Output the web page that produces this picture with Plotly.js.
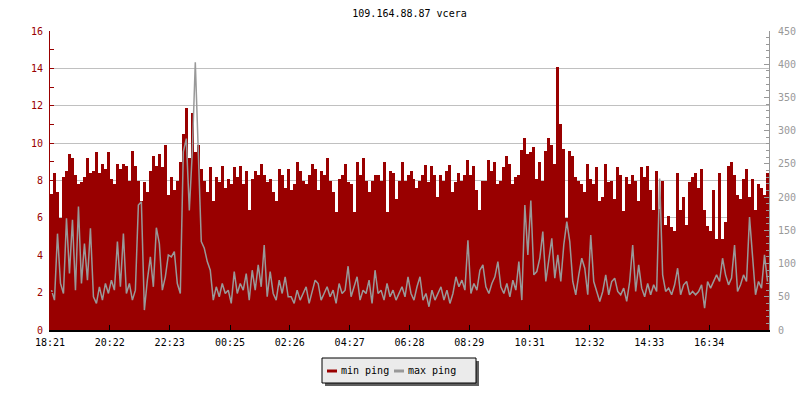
<!DOCTYPE html>
<html><head><meta charset="utf-8">
<script src="https://cdn.plot.ly/plotly-3.0.1.min.js"></script>
<style>html,body{margin:0;padding:0;background:#fff;}#chart{width:800px;height:400px;}</style>
</head><body><div id="chart"></div>
<script>
// ---- data ----
const chartTitle = '109.164.88.87 vcera';
const seriesNames = ['min ping', 'max ping'];
const timeLabels = ['18:21','20:22','22:23','00:25','02:26','04:27','06:28','08:29','10:31','12:32','14:33','16:34'];
const spanMinutes = 1454; // time covered by the x axis, starting at 18:21

// min ping (left axis, ms)
const minPing = [
 7.3,8.4,7.4,6.0,8.2,8.5,9.4,9.2,8.3,7.8,7.9,8.2,9.2,8.4,8.5,9.5,8.4,8.9,8.6,9.5,
 8.1,7.8,8.9,8.6,8.9,8.8,8.0,9.6,8.8,8.0,6.9,7.9,7.4,8.5,9.3,8.8,9.4,8.7,9.9,7.2,
 8.2,7.5,8.0,9.0,10.5,11.9,9.2,11.6,9.5,9.9,8.6,8.0,7.4,8.7,6.9,8.2,7.9,8.8,7.6,8.1,
 7.8,8.7,8.2,8.8,7.8,8.5,6.4,8.1,8.5,8.3,8.9,8.3,7.9,8.1,7.4,6.9,8.6,8.3,7.6,8.6,
 7.5,7.8,9.0,8.5,8.0,7.8,8.3,8.9,8.6,7.5,8.5,8.3,9.2,8.0,7.4,6.3,8.1,8.3,8.9,7.9,
 7.8,6.3,9.0,8.3,9.2,8.0,7.4,8.0,8.3,8.3,8.0,9.0,6.3,8.5,8.4,7.0,8.0,9.0,8.0,8.3,
 8.5,8.1,7.6,8.0,8.3,8.85,7.9,8.8,8.3,7.1,8.3,8.0,8.5,8.85,7.4,7.9,8.4,8.0,8.3,9.1,
 8.3,8.8,7.5,6.4,8.0,8.0,9.1,8.5,9.0,7.8,8.0,8.7,9.3,8.9,7.8,8.2,8.3,9.65,10.3,9.4,
 9.5,9.8,8.1,9.0,8.0,9.6,10.3,9.9,8.9,14.06,11.0,9.7,6.0,9.6,9.3,8.2,8.0,7.8,7.4,8.9,
 8.1,7.8,8.7,6.9,7.1,8.9,7.9,8.0,7.0,8.7,8.3,6.35,8.2,7.8,8.3,8.0,6.9,8.7,8.2,8.8,
 7.5,6.4,8.5,6.5,8.0,5.6,6.1,5.5,5.3,8.4,6.4,7.1,5.6,7.9,8.2,8.4,7.6,8.6,6.4,5.55,
 5.3,7.5,4.85,8.4,4.85,5.8,8.8,9.0,8.3,7.2,7.0,8.1,8.6,7.1,8.1,6.4,7.8,7.6,7.2,8.4
];

// max ping (right axis, ms)
const maxPing = [
 60,45,145,70,55,168,85,166,60,186,70,130,75,153,50,40,65,45,70,55,
 75,60,133,65,145,55,70,45,60,188,193,30,75,110,65,154,130,60,80,113,
 110,118,70,55,268,288,180,268,403,253,133,123,103,90,45,65,50,70,55,60,
 40,88,55,70,60,85,45,90,60,98,65,128,50,88,55,45,75,55,80,50,
 50,40,60,45,55,65,40,60,75,70,45,55,65,50,60,40,70,55,60,96,
 50,65,80,45,60,55,75,40,90,55,60,45,70,50,60,45,55,65,50,80,
 55,45,65,80,45,55,35,60,45,55,65,45,60,40,55,80,65,75,60,135,
 55,70,60,90,98,65,55,70,80,103,65,55,70,50,75,60,103,45,188,113,
 195,83,88,108,148,73,103,138,78,113,73,128,163,133,73,53,83,108,93,53,
 143,73,58,43,58,83,53,73,78,58,53,63,43,73,128,58,98,63,50,70,
 53,68,58,228,83,58,63,53,68,93,53,68,73,53,58,53,58,68,33,73,
 63,73,83,73,108,83,68,78,128,58,68,83,73,170,108,53,73,63,113,73
];

// ---- build ----
const RED = '#990000', GREY = '#999999';
const n = minPing.length;
const step = spanMinutes / n;
const xs = minPing.map((_, i) => (i + 0.5) * step);
const toMin = s => { const [h, m] = s.split(':').map(Number); return h * 60 + m; };
const t0 = toMin(timeLabels[0]);
const tickVals = timeLabels.map(s => ((toMin(s) - t0) + 1440) % 1440);

const traces = [
  { type: 'bar', name: seriesNames[0], x: xs, y: minPing, width: step,
    marker: { color: RED, line: { width: 0 } }, hoverinfo: 'skip' },
  { type: 'scatter', mode: 'lines', name: seriesNames[1], x: xs, y: maxPing, yaxis: 'y2',
    line: { color: GREY, width: 1.5, shape: 'linear' }, hoverinfo: 'skip' }
];

// custom legend box (pixel positions converted to paper coordinates)
const M = { l: 50, r: 31, t: 31, b: 70 };
const PW = 800 - M.l - M.r, PH = 400 - M.t - M.b;
const px = p => (p - M.l) / PW;
const py = p => (400 - M.b - p) / PH;
const legendShapes = [
  { type: 'rect', xref: 'paper', yref: 'paper', x0: px(325), x1: px(479), y0: py(386), y1: py(361),
    fillcolor: '#5f5f5f', line: { width: 0 }, layer: 'above' },
  { type: 'rect', xref: 'paper', yref: 'paper', x0: px(322), x1: px(476), y0: py(383), y1: py(358),
    fillcolor: '#ebebeb', line: { color: '#000', width: 1 }, layer: 'above' },
  { type: 'line', xref: 'paper', yref: 'paper', x0: px(327), x1: px(337), y0: py(371), y1: py(371),
    line: { color: RED, width: 3 }, layer: 'above' },
  { type: 'line', xref: 'paper', yref: 'paper', x0: px(394), x1: px(404), y0: py(371), y1: py(371),
    line: { color: GREY, width: 3 }, layer: 'above' }
];
const legendFont = { family: 'DejaVu Sans Mono, monospace', size: 10, color: '#000' };
const legendText = [
  { xref: 'paper', yref: 'paper', x: px(340), y: py(370), xanchor: 'left', yanchor: 'middle',
    text: seriesNames[0], showarrow: false, font: legendFont, borderpad: 0 },
  { xref: 'paper', yref: 'paper', x: px(407), y: py(370), xanchor: 'left', yanchor: 'middle',
    text: seriesNames[1], showarrow: false, font: legendFont, borderpad: 0 }
];

const layout = {
  width: 800, height: 400,
  margin: { l: M.l, r: M.r, t: M.t, b: M.b, pad: 0 },
  paper_bgcolor: '#ffffff', plot_bgcolor: '#ffffff',
  font: { family: 'DejaVu Sans Mono, monospace', size: 10, color: '#000000' },
  title: { text: chartTitle, x: 0.5, xref: 'paper', xanchor: 'center', y: 0.967, yref: 'container', yanchor: 'middle',
           font: { family: 'DejaVu Sans Mono, monospace', size: 10, color: '#000000' } },
  bargap: 0,
  showlegend: false,
  shapes: legendShapes,
  annotations: legendText,
  xaxis: { range: [0, spanMinutes], tickmode: 'array', tickvals: tickVals, ticktext: timeLabels,
           ticks: 'inside', ticklen: 5, tickcolor: '#000', tickwidth: 1,
           showline: true, linecolor: '#000', linewidth: 2, showgrid: false, zeroline: false,
           ticklabelstandoff: 2, fixedrange: true },
  yaxis: { range: [0, 16], tick0: 0, dtick: 2, ticks: 'inside', ticklen: 4, tickcolor: RED,
           showline: true, linecolor: RED, linewidth: 1, tickfont: { color: RED },
           showgrid: true, gridcolor: '#c0c0c0', gridwidth: 1, zeroline: false, ticklabelstandoff: 4,
           minor: { dtick: 1, ticks: 'inside', ticklen: 4, tickcolor: RED, showgrid: false } },
  yaxis2: { range: [0, 450], tick0: 0, dtick: 50, overlaying: 'y', side: 'right',
            ticks: 'inside', ticklen: 5, tickcolor: GREY, showline: true, linecolor: GREY, linewidth: 1,
            tickfont: { color: GREY }, showgrid: false, zeroline: false, ticklabelstandoff: 6,
            minor: { dtick: 10, ticks: 'inside', ticklen: 3, tickcolor: GREY, showgrid: false } }
};

Plotly.newPlot('chart', traces, layout, { displayModeBar: false, staticPlot: true });
</script>
</body></html>
